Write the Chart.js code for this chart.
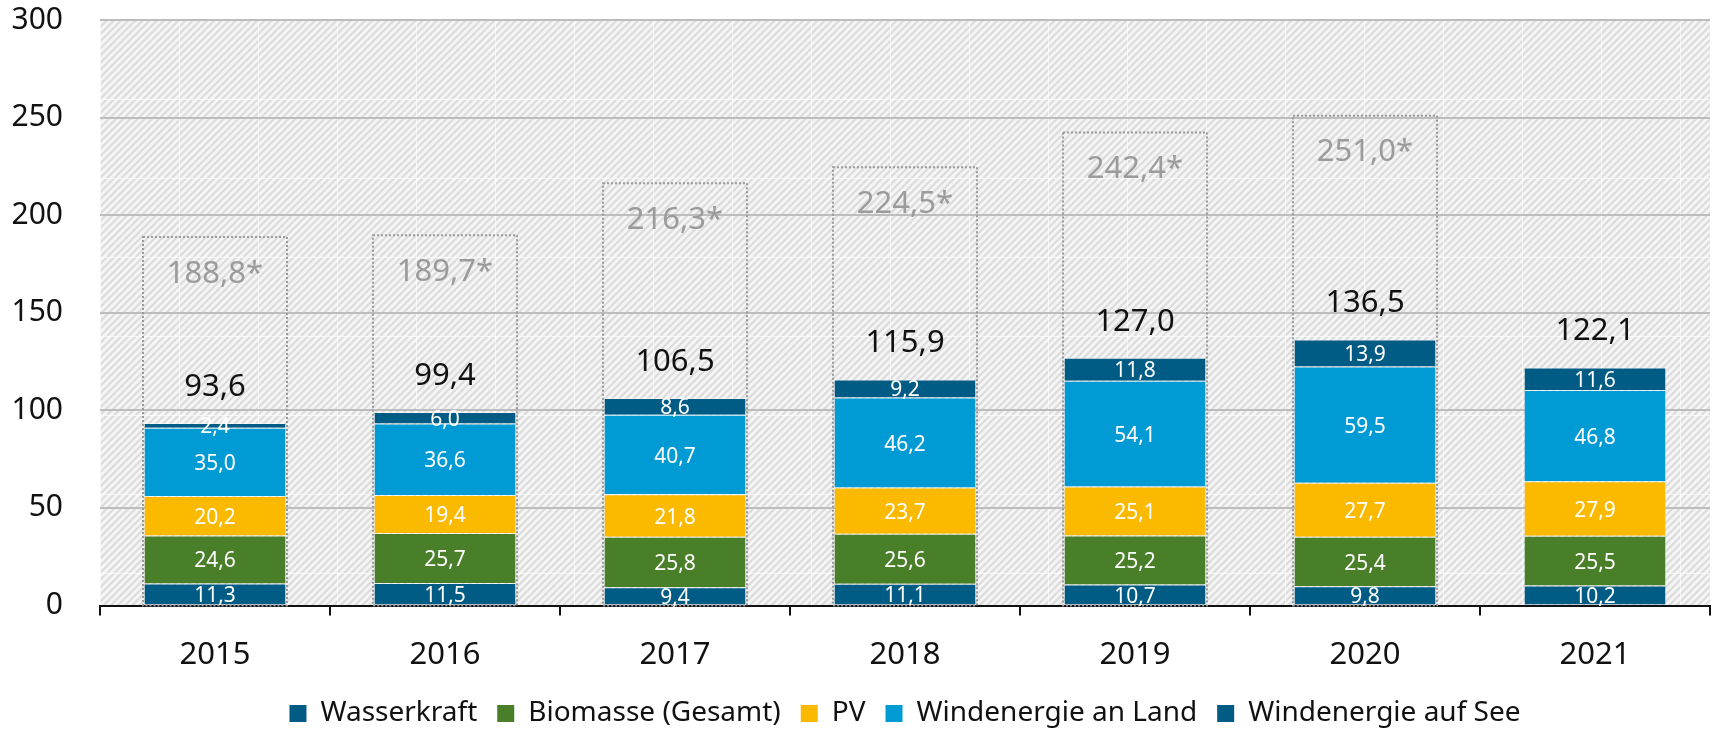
<!DOCTYPE html>
<html>
<head>
<meta charset="utf-8">
<script src="https://cdn.jsdelivr.net/npm/chart.js@4.4.1/dist/chart.umd.min.js"></script>
<style>
  html, body { margin: 0; padding: 0; background: #fff; }
  #wrap { width: 1713px; height: 729px; position: relative; }
</style>
</head>
<body>
<div id="wrap"><canvas id="chart"></canvas></div>
<script>
// Data
var years = ['2015', '2016', '2017', '2018', '2019', '2020', '2021'];
var wasserkraft = [11.3, 11.5, 9.4, 11.1, 10.7, 9.8, 10.2];
var biomasse = [24.6, 25.7, 25.8, 25.6, 25.2, 25.4, 25.5];
var pv = [20.2, 19.4, 21.8, 23.7, 25.1, 27.7, 27.9];
var windLand = [35.0, 36.6, 40.7, 46.2, 54.1, 59.5, 46.8];
var windSee = [2.4, 6.0, 8.6, 9.2, 11.8, 13.9, 11.6];
var totals = [93.6, 99.4, 106.5, 115.9, 127.0, 136.5, 122.1];
var starTotals = [188.8, 189.7, 216.3, 224.5, 242.4, 251.0, null];
var yTicks = [0, 50, 100, 150, 200, 250, 300];

var FONT = '"Noto Sans", "Open Sans", sans-serif';

function fmt(v) {
    return v.toFixed(1).replace('.', ',');
}

// Hatched background tile
function makeHatch() {
    var size = 79;
    var c = document.createElement('canvas');
    c.width = size;
    c.height = size;
    var g = c.getContext('2d');
    g.fillStyle = '#f5f5f5';
    g.fillRect(0, 0, size, size);
    g.strokeStyle = '#dcdcdc';
    g.lineWidth = 2.2;
    var step = size / 11;
    for (var k = -12; k <= 24; k++) {
        var x0 = k * step;
        g.beginPath();
        g.moveTo(x0, size);
        g.lineTo(x0 + size, 0);
        g.stroke();
    }
    g.fillStyle = 'rgba(255,255,255,0.6)';
    g.fillRect(0, 0, size, 1);
    g.fillRect(0, 0, 1, size);
    return c;
}

var hatchTile = makeHatch();

var backgroundPlugin = {
    id: 'hatchBackground',
    beforeDraw: function (chart) {
        var ctx = chart.ctx;
        var a = chart.chartArea;
        var pattern = ctx.createPattern(hatchTile, 'repeat');
        ctx.save();
        ctx.translate(a.left, a.top);
        ctx.fillStyle = pattern;
        ctx.fillRect(0, 0, a.right - a.left, a.bottom - a.top);
        ctx.restore();
    }
};

var labelPlugin = {
    id: 'barLabels',
    afterDatasetsDraw: function (chart) {
        var ctx = chart.ctx;
        var yScale = chart.scales.y;
        ctx.save();
        ctx.textAlign = 'center';
        ctx.textBaseline = 'middle';

        // dotted boxes with the starred totals
        var boxMeta = chart.getDatasetMeta(5);
        boxMeta.data.forEach(function (bar, i) {
            if (starTotals[i] == null) return;
            var left = bar.x - bar.width / 2 - 1.5;
            var right = bar.x + bar.width / 2 + 1.5;
            var top = bar.y;
            var bottom = yScale.getPixelForValue(0);
            ctx.strokeStyle = '#9a9a9a';
            ctx.lineWidth = 2;
            ctx.setLineDash([2, 2]);
            ctx.strokeRect(left, top, right - left, bottom - top);
            ctx.setLineDash([]);
            ctx.fillStyle = '#9b9b9b';
            ctx.font = '31px ' + FONT;
            ctx.fillText(fmt(starTotals[i]) + '*', bar.x, top + 37);
        });

        // white segment values
        ctx.fillStyle = '#ffffff';
        ctx.font = '21px ' + FONT;
        for (var d = 0; d < 5; d++) {
            var meta = chart.getDatasetMeta(d);
            var vals = chart.data.datasets[d].data;
            meta.data.forEach(function (bar, i) {
                ctx.fillText(fmt(vals[i]), bar.x, (bar.y + bar.base) / 2 + 2);
            });
        }

        // black totals above the bars
        var topMeta = chart.getDatasetMeta(4);
        ctx.fillStyle = '#111111';
        ctx.font = '31px ' + FONT;
        topMeta.data.forEach(function (bar, i) {
            ctx.fillText(fmt(totals[i]), bar.x, bar.y - 36);
        });
        ctx.restore();
    }
};

var segBorder = 'rgba(255,255,255,0.35)';

function series(label, data, color) {
    return {
        label: label,
        data: data,
        backgroundColor: color,
        stack: 's',
        borderWidth: { top: 1, left: 0, right: 0, bottom: 0 },
        borderColor: segBorder,
        borderSkipped: false
    };
}

var chart = new Chart(document.getElementById('chart'), {
    type: 'bar',
    data: {
        labels: years,
        datasets: [
            series('Wasserkraft', wasserkraft, '#005c85'),
            series('Biomasse (Gesamt)', biomasse, '#4a7f2a'),
            series('PV', pv, '#fbba00'),
            series('Windenergie an Land', windLand, '#009bd4'),
            series('Windenergie auf See', windSee, '#005c85'),
            { label: 'box', data: starTotals, backgroundColor: 'rgba(0,0,0,0)', stack: 'box', grouped: false, borderWidth: 0 }
        ]
    },
    options: {
        responsive: true,
        maintainAspectRatio: false,
        animation: false,
        layout: { padding: { top: 20, right: 3, left: 0, bottom: -8.5 } },
        datasets: {
            bar: { categoryPercentage: 1, barPercentage: 0.613 }
        },
        plugins: {
            tooltip: { enabled: false },
            legend: {
                position: 'bottom',
                fullSize: false,
                labels: {
                    filter: function (item) { return item.text !== 'box'; },
                    generateLabels: function (chart) {
                        return chart.data.datasets.map(function (ds, i) {
                            return {
                                text: ds.label,
                                fillStyle: ds.backgroundColor,
                                strokeStyle: ds.backgroundColor,
                                lineWidth: 0,
                                hidden: false,
                                datasetIndex: i,
                                fontColor: '#111111'
                            };
                        });
                    },
                    boxWidth: 17,
                    boxHeight: 17,
                    padding: 20,
                    color: '#111111',
                    font: { family: FONT, size: 28 }
                }
            }
        },
        scales: {
            x: {
                stacked: true,
                afterFit: function (scale) { scale.height = 74; },
                grid: {
                    display: true,
                    drawOnChartArea: false,
                    drawTicks: true,
                    tickLength: 10,
                    color: '#111111',
                    lineWidth: 2
                },
                border: { display: true, color: '#111111', width: 2 },
                ticks: {
                    padding: 21,
                    color: '#111111',
                    font: { family: FONT, size: 31 }
                }
            },
            y: {
                stacked: true,
                min: 0,
                max: 300,
                afterBuildTicks: function (scale) {
                    scale.ticks = yTicks.map(function (v) { return { value: v }; });
                },
                afterFit: function (scale) { scale.width = 100; },
                grid: {
                    color: '#bdbdbd',
                    lineWidth: 2,
                    drawTicks: true,
                    tickLength: 35,
                    tickColor: 'rgba(0,0,0,0)'
                },
                border: { display: false },
                ticks: {
                    padding: 2,
                    color: '#111111',
                    font: { family: FONT, size: 30 }
                }
            }
        }
    },
    plugins: [backgroundPlugin, labelPlugin]
});
</script>
</body>
</html>
